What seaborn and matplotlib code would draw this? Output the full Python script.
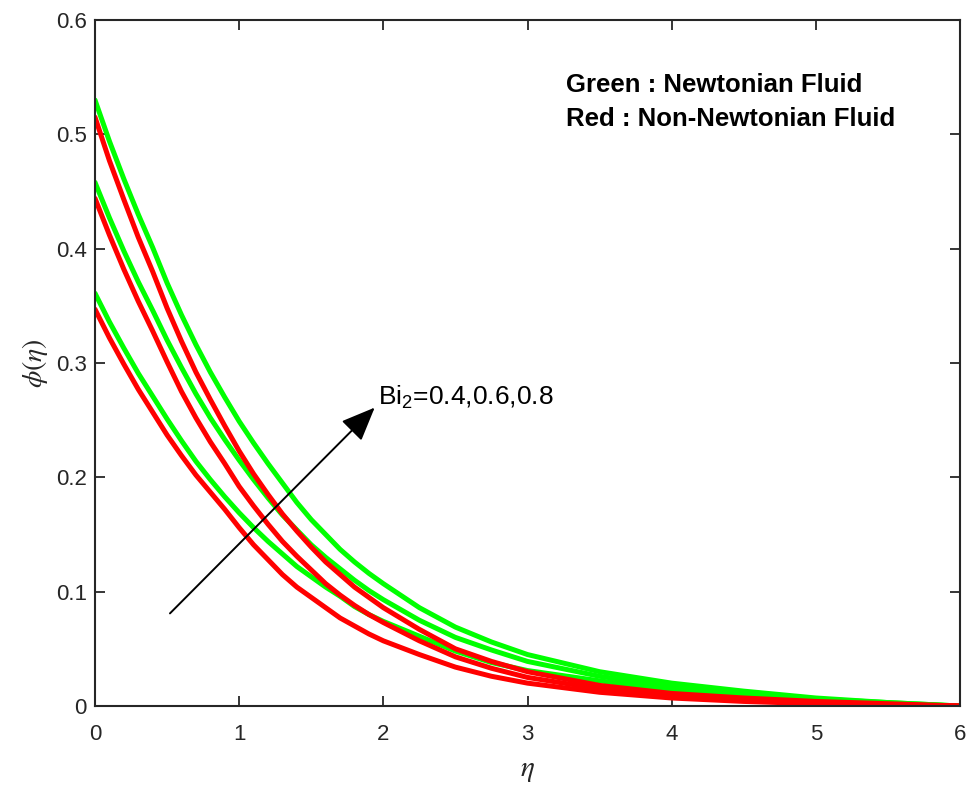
import numpy as np
import pandas as pd
import matplotlib
matplotlib.use("Agg")
import matplotlib.pyplot as plt
import seaborn as sns

# ---------------- data ----------------
eta = [0, 0.1, 0.2, 0.3, 0.4, 0.5, 0.6, 0.7, 0.8, 0.9, 1.0,
       1.1, 1.2, 1.3, 1.4, 1.5, 1.6, 1.7, 1.8, 1.9, 2.0,
       2.25, 2.5, 2.75, 3.0, 3.5, 4.0, 4.5, 5.0, 5.5, 6.0]
bi_values = ["0.4", "0.6", "0.8"]

# Green : Newtonian fluid
newt_bi04 = [0.361, 0.336, 0.313, 0.291, 0.271, 0.251, 0.232, 0.214, 0.198, 0.183, 0.169,
             0.156, 0.144, 0.133, 0.122, 0.113, 0.104, 0.096, 0.087, 0.080, 0.074,
             0.061, 0.048, 0.038, 0.031, 0.022, 0.014, 0.009, 0.005, 0.002, 0.0]
newt_bi06 = [0.458, 0.427, 0.398, 0.371, 0.346, 0.320, 0.296, 0.273, 0.252, 0.233, 0.215,
             0.198, 0.182, 0.167, 0.154, 0.141, 0.130, 0.120, 0.110, 0.101, 0.093,
             0.075, 0.060, 0.049, 0.039, 0.026, 0.017, 0.011, 0.006, 0.003, 0.0]
newt_bi08 = [0.530, 0.494, 0.461, 0.430, 0.401, 0.370, 0.342, 0.316, 0.292, 0.270, 0.249,
             0.230, 0.212, 0.195, 0.178, 0.163, 0.150, 0.137, 0.126, 0.116, 0.107,
             0.086, 0.069, 0.056, 0.045, 0.030, 0.020, 0.013, 0.007, 0.003, 0.0]

# Red : Non-Newtonian fluid
nonn_bi04 = [0.347, 0.322, 0.299, 0.277, 0.257, 0.237, 0.219, 0.202, 0.187, 0.172, 0.156,
             0.141, 0.128, 0.115, 0.104, 0.095, 0.086, 0.077, 0.070, 0.063, 0.057,
             0.045, 0.034, 0.026, 0.020, 0.012, 0.007, 0.004, 0.002, 0.001, 0.0]
nonn_bi06 = [0.444, 0.412, 0.382, 0.354, 0.328, 0.301, 0.275, 0.252, 0.231, 0.212, 0.192,
             0.175, 0.159, 0.144, 0.131, 0.119, 0.107, 0.097, 0.088, 0.080, 0.073,
             0.057, 0.043, 0.033, 0.025, 0.015, 0.009, 0.006, 0.003, 0.001, 0.0]
nonn_bi08 = [0.515, 0.477, 0.443, 0.410, 0.380, 0.348, 0.319, 0.292, 0.268, 0.245, 0.223,
             0.203, 0.185, 0.168, 0.153, 0.139, 0.126, 0.115, 0.104, 0.095, 0.086,
             0.067, 0.050, 0.039, 0.030, 0.018, 0.011, 0.007, 0.004, 0.002, 0.0]

x_ticks = [0, 1, 2, 3, 4, 5, 6]
y_ticks = [0, 0.1, 0.2, 0.3, 0.4, 0.5, 0.6]
legend_lines = ["Green : Newtonian Fluid", "Red : Non-Newtonian Fluid"]
annotation_text = r"Bi$_\mathrm{2}$=0.4,0.6,0.8"

# ---------------- build long table ----------------
rows = []
for fluid, series in [("Newtonian", [newt_bi04, newt_bi06, newt_bi08]),
                      ("Non-Newtonian", [nonn_bi04, nonn_bi06, nonn_bi08])]:
    for bi, vals in zip(bi_values, series):
        for e, v in zip(eta, vals):
            rows.append({"eta": e, "phi": v, "fluid": fluid, "Bi": bi})
df = pd.DataFrame(rows)

# ---------------- style ----------------
sns.set_theme(style="ticks")
plt.rcParams["font.family"] = ["Liberation Sans", "DejaVu Sans"]
plt.rcParams["mathtext.fontset"] = "custom"
plt.rcParams["mathtext.rm"] = "Liberation Sans"
plt.rcParams["mathtext.it"] = "Liberation Sans:italic"

axcol = "#262626"
fig = plt.figure(figsize=(9.66, 7.92), dpi=100)
ax = fig.add_axes([95 / 966, 86 / 792, 865 / 966, 686 / 792])

palette = {"Newtonian": "#00FF00", "Non-Newtonian": "#FF0000"}
for fluid in ["Newtonian", "Non-Newtonian"]:
    sub = df[df["fluid"] == fluid]
    sns.lineplot(data=sub, x="eta", y="phi", units="Bi", estimator=None,
                 color=palette[fluid], linewidth=3.6, ax=ax, legend=False, sort=False)

ax.set_xlim(0, 6)
ax.set_ylim(0, 0.6)
ax.set_xticks(x_ticks)
ax.set_yticks(y_ticks)
ax.set_xticklabels([str(t) for t in x_ticks])
ax.set_yticklabels(["0" if t == 0 else f"{t:.1f}" for t in y_ticks])

ax.tick_params(direction="in", length=7, width=1.3, colors=axcol,
               top=True, right=True, labelsize=16)
ax.tick_params(axis="x", pad=13)
ax.tick_params(axis="y", pad=6)
for s in ax.spines.values():
    s.set_visible(True)
    s.set_linewidth(1.5)
    s.set_color(axcol)

ax.set_xlabel(r"$\eta$", fontsize=21, math_fontfamily="stix", color=axcol, labelpad=8)
ax.set_ylabel(r"$\phi(\eta)$", fontsize=20, math_fontfamily="stix", color=axcol, labelpad=4)

# legend-like text
ax.text(3.27, 0.543, legend_lines[0], fontsize=18.5, fontweight="bold",
        color="black", va="center", ha="left")
ax.text(3.27, 0.513, legend_lines[1], fontsize=18.5, fontweight="bold",
        color="black", va="center", ha="left")

# arrow + annotation
ax.annotate("", xy=(1.94, 0.261), xytext=(0.52, 0.081),
            arrowprops=dict(arrowstyle="-|>,head_length=0.6,head_width=0.25",
                            color="black", lw=1.4, mutation_scale=35,
                            shrinkA=0, shrinkB=0))
ax.text(1.96, 0.270, annotation_text, fontsize=19, color="black",
        va="center", ha="left")

fig.savefig("out.png", dpi=100)
